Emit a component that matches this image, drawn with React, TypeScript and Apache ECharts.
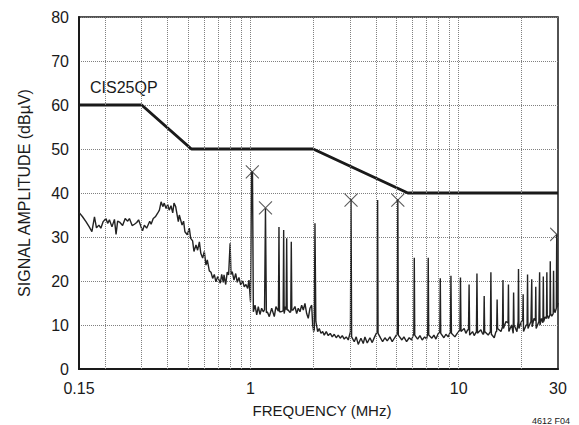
import React, { useEffect, useRef } from "react";
import * as echarts from "echarts";

// ---- data ----
const xGridFreqs = [0.2, 0.3, 0.4, 0.5, 0.6, 0.7, 0.8, 0.9, 1, 2, 3, 4, 5, 6, 7, 8, 9, 10, 20];
const limitFreq = [0.15, 0.3, 0.52, 2, 5.7, 30];
const limitAmp = [60, 60, 50, 50, 40, 40];

const spectrumLow: [number, number][] = [
  [0.150, 35.6], [0.156, 34.6], [0.162, 33.5], [0.168, 32.3], [0.173, 31.2], [0.178, 34.6],
  [0.182, 32.1], [0.187, 32.7], [0.191, 32.0], [0.196, 33.5], [0.202, 34.2], [0.206, 33.1],
  [0.210, 33.9], [0.216, 32.3], [0.222, 34.0], [0.226, 30.6], [0.230, 33.6], [0.236, 33.3],
  [0.243, 32.6], [0.250, 34.2], [0.257, 33.6], [0.262, 34.2], [0.270, 32.6], [0.277, 32.9],
  [0.284, 33.3], [0.290, 33.9], [0.298, 32.3], [0.303, 31.4], [0.309, 32.7], [0.317, 32.0],
  [0.328, 33.6], [0.333, 32.9], [0.341, 34.2], [0.349, 34.6], [0.358, 35.4], [0.365, 36.1],
  [0.372, 38.0], [0.379, 36.9], [0.385, 37.7], [0.393, 36.5], [0.400, 37.4], [0.407, 36.1],
  [0.415, 37.1], [0.423, 35.5], [0.429, 37.7], [0.437, 36.9], [0.450, 33.5], [0.455, 35.0],
  [0.469, 32.7], [0.477, 33.6], [0.484, 31.2], [0.497, 30.5], [0.508, 32.0], [0.516, 29.7],
  [0.527, 29.1], [0.535, 26.7], [0.547, 28.2], [0.557, 27.0], [0.568, 28.9], [0.577, 26.3],
  [0.589, 25.2], [0.600, 26.7], [0.611, 23.6], [0.620, 24.8], [0.634, 22.3], [0.646, 22.0],
  [0.658, 20.6], [0.670, 21.5], [0.682, 19.8], [0.695, 21.0], [0.716, 19.5], [0.727, 21.5],
  [0.740, 19.7], [0.746, 21.4], [0.760, 19.2], [0.773, 22.0], [0.785, 21.4], [0.798, 28.6],
  [0.806, 21.5], [0.817, 22.1], [0.833, 20.2], [0.849, 21.7], [0.864, 19.7], [0.880, 20.8],
  [0.897, 19.1], [0.917, 20.0], [0.933, 18.7], [0.951, 19.2], [0.969, 18.3], [0.983, 20.2],
  [1.000, 15.3], [1.012, 44.8], [1.022, 44.8], [1.032, 13.0],
];

const spectrumMid: [number, number][] = [
  [1.051, 14.5], [1.071, 12.3], [1.090, 14.2], [1.110, 12.4], [1.131, 13.8], [1.152, 13.0],
  [1.168, 13.5], [1.180, 36.5], [1.192, 12.8], [1.204, 13.0], [1.231, 11.9], [1.264, 13.8],
  [1.301, 11.9], [1.325, 14.2], [1.350, 13.4], [1.362, 13.2], [1.370, 32.3], [1.378, 13.0],
  [1.396, 13.0], [1.435, 13.2], [1.443, 31.6], [1.451, 12.6], [1.472, 14.2], [1.483, 13.5],
  [1.492, 29.7], [1.500, 13.4], [1.519, 13.4], [1.542, 12.9], [1.561, 13.0], [1.570, 28.9],
  [1.579, 13.4], [1.600, 13.4], [1.635, 14.2], [1.666, 12.6], [1.696, 13.8], [1.728, 13.0],
  [1.761, 14.5], [1.793, 13.4], [1.826, 14.9], [1.861, 12.6], [1.894, 11.5], [1.930, 13.8],
  [1.967, 14.5], [1.989, 10.0], [2.011, 8.5], [2.025, 9.0], [2.040, 33.1], [2.060, 10.8],
  [2.102, 8.5], [2.139, 9.2], [2.180, 8.1], [2.221, 8.5], [2.261, 7.7], [2.311, 8.5],
  [2.363, 7.6], [2.416, 8.1], [2.470, 7.3], [2.525, 7.9], [2.581, 7.1], [2.639, 7.7],
  [2.698, 7.0], [2.759, 7.6], [2.820, 6.8], [2.883, 7.3], [2.948, 6.6], [3.020, 8.5],
  [3.040, 38.6], [3.060, 7.3], [3.150, 6.2], [3.220, 7.3], [3.292, 5.6], [3.392, 7.0],
  [3.480, 5.8], [3.545, 7.3], [3.637, 5.9], [3.747, 7.1], [3.843, 6.0], [3.947, 7.3],
  [4.060, 8.5], [4.080, 38.4], [4.100, 8.1], [4.218, 7.0], [4.311, 6.2], [4.423, 7.1],
  [4.537, 6.4], [4.674, 7.3], [4.794, 6.2], [4.924, 7.1], [5.075, 8.1], [5.100, 38.6],
  [5.130, 7.7], [5.338, 6.6], [5.457, 7.3], [5.621, 6.2], [5.786, 7.1], [5.941, 6.6],
  [6.090, 8.1], [6.120, 25.3], [6.150, 7.7], [6.350, 6.8], [6.513, 7.6], [6.680, 6.6],
  [6.860, 7.3], [7.012, 6.8], [7.100, 8.1], [7.140, 25.3], [7.180, 7.7], [7.437, 7.0],
  [7.603, 7.7], [7.773, 6.8], [7.947, 7.9], [8.120, 8.5], [8.160, 20.6], [8.200, 8.1],
  [8.492, 7.1], [8.682, 7.9], [8.906, 7.3], [9.130, 8.5], [9.180, 21.2], [9.230, 8.1],
  [9.590, 7.3], [9.837, 8.1],
];

const spectrumHigh: [number, number][] = [
  [10.14, 8.9], [10.20, 20.8], [10.26, 8.5], [10.63, 9.2], [10.83, 8.1], [11.04, 8.9],
  [11.15, 8.9], [11.22, 19.2], [11.29, 7.7], [11.66, 8.5], [11.87, 7.6], [12.17, 8.5],
  [12.24, 21.7], [12.31, 8.1], [12.78, 8.9], [13.07, 7.9], [13.19, 8.0], [13.26, 16.6],
  [13.33, 8.5], [13.86, 7.7], [14.20, 8.5], [14.28, 22.0], [14.36, 7.9], [14.82, 7.1],
  [15.10, 8.5], [15.22, 8.5], [15.30, 15.8], [15.38, 9.2], [15.96, 8.5], [16.24, 9.6],
  [16.32, 20.2], [16.40, 9.2], [16.87, 10.8], [17.26, 10.5], [17.34, 19.2], [17.42, 8.5],
  [17.96, 10.0], [18.28, 8.1], [18.36, 17.4], [18.45, 10.0], [19.05, 8.5], [19.30, 10.8],
  [19.38, 22.7], [19.47, 9.2], [20.13, 11.1], [20.31, 11.0], [20.40, 17.0], [20.49, 8.5],
  [21.11, 10.0], [21.32, 10.0], [21.42, 21.5], [21.52, 9.2], [22.24, 10.8], [22.34, 10.8],
  [22.44, 20.4], [22.54, 9.6], [23.00, 11.5], [23.36, 11.0], [23.46, 18.7], [23.56, 9.2],
  [24.29, 10.8], [24.38, 10.8], [24.48, 22.0], [24.58, 10.0], [25.00, 11.5], [25.39, 10.5],
  [25.50, 21.0], [25.61, 10.8], [26.00, 11.8], [26.41, 11.5], [26.52, 22.0], [26.63, 12.3],
  [27.00, 11.5], [27.43, 12.3], [27.54, 24.5], [27.65, 12.6], [28.00, 12.0], [28.45, 12.6],
  [28.56, 22.3], [28.67, 13.8], [29.00, 12.8], [29.45, 13.8], [29.58, 30.6], [29.75, 14.0],
  [30.00, 15.0],
];

const peakMarkers: [number, number][] = [[1.02, 44.8], [1.18, 36.6], [3.04, 38.4], [5.1, 38.4]];
const edgeMarkers: [number, number][] = [[29.58, 30.6]];

const FONT = "'Liberation Sans', Arial, Helvetica, sans-serif";
const INK = "#1a1a1a";

export default function App() {
  const ref = useRef<HTMLDivElement>(null);
  useEffect(() => {
    if (!ref.current) return;
    const chart = echarts.init(ref.current, null, { renderer: "svg" });
    const limitData = limitFreq.map((f, i) => [f, limitAmp[i]]);
    const spectrum = [...spectrumLow, ...spectrumMid, ...spectrumHigh];
    chart.setOption({
      animation: false,
      backgroundColor: "#fff",
      grid: {
        left: 79, top: 17, right: 21, bottom: 56,
        show: true, borderColor: INK, borderWidth: 1.5, backgroundColor: "transparent",
      },
      xAxis: {
        type: "log", logBase: 10, min: 0.15, max: 30,
        axisLine: { show: true, onZero: false, lineStyle: { color: INK, width: 2 } },
        axisTick: { show: false },
        splitLine: { show: false },
        axisLabel: {
          color: INK, fontSize: 16, fontFamily: FONT, margin: 11,
          showMinLabel: true, showMaxLabel: true,
          formatter: (v: number) => String(Math.round(v * 100) / 100),
        },
      },
      yAxis: {
        type: "value", min: 0, max: 80, interval: 10,
        axisLine: { show: true, lineStyle: { color: INK, width: 2 } },
        axisTick: { show: false },
        axisLabel: { color: INK, fontSize: 16, fontFamily: FONT, margin: 10 },
        splitLine: { show: true, lineStyle: { type: "dotted", color: "#808080", width: 1 } },
      },
      graphic: [
        {
          type: "text", x: 24, y: 193, rotation: Math.PI / 2,
          style: { text: "SIGNAL AMPLITUDE (dBµV)", fill: INK, font: `16px ${FONT}`, textAlign: "center", textVerticalAlign: "middle" },
        },
        {
          type: "text", x: 322, y: 410,
          style: { text: "FREQUENCY (MHz)", fill: INK, font: `15px ${FONT}`, textAlign: "center", textVerticalAlign: "middle" },
        },
        {
          type: "text", x: 551, y: 421,
          style: { text: "4612 F04", fill: INK, font: `9px ${FONT}`, textAlign: "center", textVerticalAlign: "middle" },
        },
        {
          type: "text", x: 90, y: 87,
          style: { text: "CIS25QP", fill: INK, font: `16px ${FONT}`, textAlign: "left", textVerticalAlign: "middle" },
        },
      ],
      series: [
        {
          type: "line", data: [], silent: true, z: 1,
          markLine: {
            silent: true, symbol: "none", animation: false,
            label: { show: false },
            lineStyle: { type: "dotted", color: "#808080", width: 1 },
            data: xGridFreqs.map((f) => ({ xAxis: f })),
          },
        },
        {
          type: "line", data: spectrum, showSymbol: false, symbol: "none", z: 3,
          lineStyle: { color: "#222", width: 1.4 },
        },
        {
          type: "line", data: limitData, showSymbol: false, symbol: "none", z: 4,
          lineStyle: { color: INK, width: 3 },
        },
        {
          type: "scatter", data: peakMarkers, z: 5,
          symbol: "path://M0,0L10,10M10,0L0,10", symbolSize: 13,
          itemStyle: { color: "none", borderColor: "#333", borderWidth: 1.1 },
        },
        {
          type: "scatter", data: edgeMarkers, z: 5,
          symbol: "path://M0,0L10,10L0,20", symbolSize: [6.5, 13], symbolOffset: [-3.25, 0],
          itemStyle: { color: "none", borderColor: "#333", borderWidth: 1.1 },
        },
      ],
    });
    return () => chart.dispose();
  }, []);
  return <div ref={ref} style={{ position: "absolute", left: 0, top: 0, width: 579, height: 425 }} />;
}
